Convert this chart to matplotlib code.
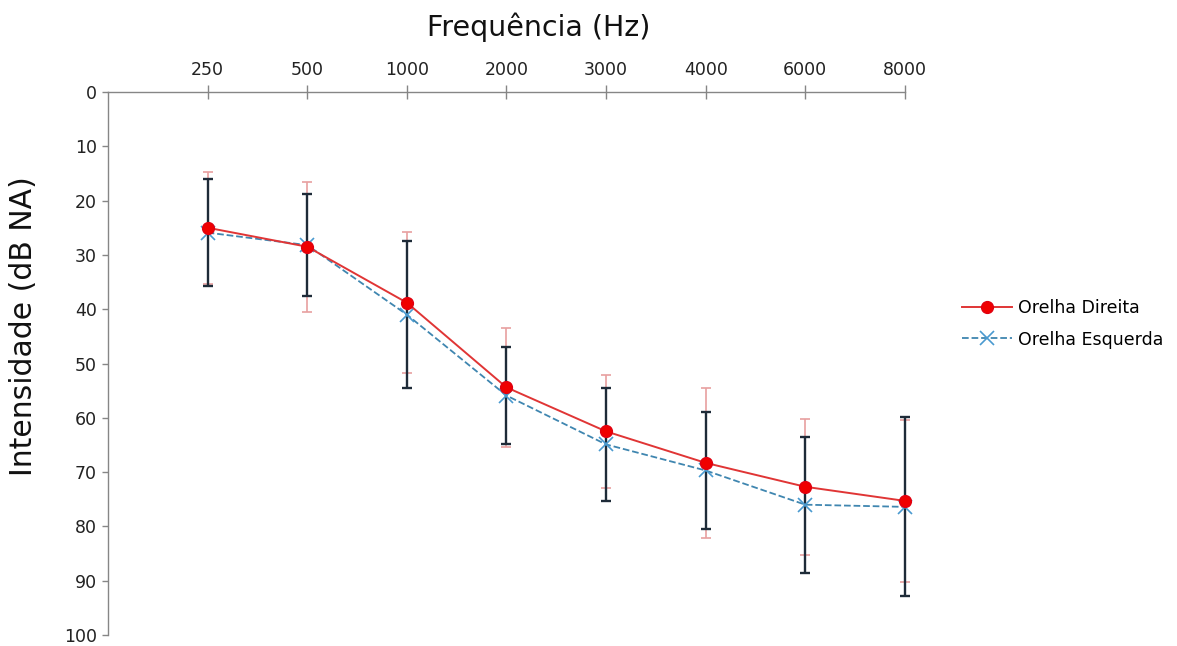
import matplotlib
matplotlib.use("Agg")
import matplotlib.pyplot as plt
import numpy as np

freqs = ["250", "500", "1000", "2000", "3000", "4000", "6000", "8000"]
direita_mean = [25.0, 28.5, 38.8, 54.4, 62.5, 68.3, 72.7, 75.3]
direita_err = [10.3, 12.0, 13.0, 10.9, 10.4, 13.8, 12.5, 14.9]
esquerda_mean = [25.9, 28.2, 41.0, 55.9, 64.9, 69.7, 76.0, 76.4]
esquerda_err = [9.9, 9.4, 13.6, 9.0, 10.4, 10.7, 12.5, 16.5]
yticks = [0, 10, 20, 30, 40, 50, 60, 70, 80, 90, 100]

fig = plt.figure(figsize=(11.77, 6.46), dpi=100)
ax = fig.add_axes([0.0918, 0.017, 0.677, 0.8406])

x = np.arange(len(freqs))
axis_gray = "#868686"

e1 = ax.errorbar(x, direita_mean, yerr=direita_err, fmt="none", ecolor="#E8A0A0",
                 elinewidth=1.2, capsize=3.6, capthick=1.2, zorder=2)
e2 = ax.errorbar(x, esquerda_mean, yerr=esquerda_err, fmt="none", ecolor="#1E2B38",
                 elinewidth=1.7, capsize=3.6, capthick=1.7, zorder=3)
for e in (e1, e2):
    for part in e.lines[1] + e.lines[2]:
        part.set_clip_on(False)
ax.plot(x, esquerda_mean, linestyle="--", color="#3F86B0", linewidth=1.3,
        marker="x", markersize=10, markeredgewidth=1.2, markeredgecolor="#4A9AD0",
        label="Orelha Esquerda", zorder=4, clip_on=False)
ax.plot(x, direita_mean, linestyle="-", color="#E03535", linewidth=1.4,
        marker="o", markersize=8.5, markerfacecolor="#F00000", markeredgecolor="#E00010",
        label="Orelha Direita", zorder=5, clip_on=False)

ax.set_xlim(-1, len(freqs) - 1)
ax.set_ylim(100, 0)
ax.set_xticks(x)
ax.set_xticklabels(freqs)
ax.set_yticks(yticks)
ax.set_yticklabels([str(v) for v in yticks])

ax.xaxis.tick_top()
ax.xaxis.set_label_position("top")
for s in ["right", "bottom"]:
    ax.spines[s].set_visible(False)
for s in ["left", "top"]:
    ax.spines[s].set_color(axis_gray)
    ax.spines[s].set_linewidth(1.0)

ax.tick_params(axis="x", direction="inout", length=10, width=1.0, color=axis_gray,
               labelsize=12.5, pad=4, labelcolor="#222222")
ax.tick_params(axis="y", direction="out", length=4, width=1.0, color=axis_gray,
               labelsize=12.5, pad=4, labelcolor="#222222")

ax.set_xlabel("Frequência (Hz)", fontsize=20.5, color="#111111", va="center")
ax.set_ylabel("Intensidade (dB NA)", fontsize=21.5, color="#111111", va="center")
ax.xaxis.set_label_coords(0.541, 1 + (92 - 27) / 543)
ax.yaxis.set_label_coords(-(108 - 23) / 797, 0.569)

handles, labels = ax.get_legend_handles_labels()
ax.legend(handles[::-1], labels[::-1], loc="upper left",
          bbox_to_anchor=(946 / 1177, 1 - 283 / 646), bbox_transform=fig.transFigure,
          frameon=False, fontsize=12.5, handlelength=2.9, labelspacing=0.8,
          handletextpad=0.35)

fig.savefig("out.png", dpi=100)
